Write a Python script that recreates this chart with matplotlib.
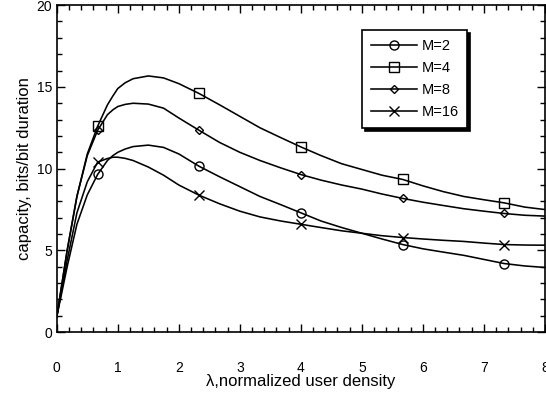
import numpy as np
import matplotlib
matplotlib.use("Agg")
import matplotlib.pyplot as plt
from matplotlib.ticker import MultipleLocator

plt.rcParams['font.family'] = ['Liberation Sans', 'DejaVu Sans']

# normalized user density (sample points)
density = [0.0, 0.17, 0.33, 0.5, 0.67, 0.83, 0.92, 1.0, 1.12, 1.25, 1.5, 1.75, 2.0,
           2.33, 2.67, 3.0, 3.33, 3.67, 4.0, 4.33, 4.67, 5.0, 5.33, 5.67, 6.0,
           6.33, 6.67, 7.0, 7.33, 7.67, 8.0]

cap_m2 = [0.95, 4.0, 6.6, 8.4, 9.65, 10.5, 10.8, 11.0, 11.2, 11.35, 11.44, 11.3, 10.9,
          10.15, 9.5, 8.9, 8.3, 7.8, 7.3, 6.8, 6.4, 6.05, 5.7, 5.36, 5.1,
          4.9, 4.7, 4.45, 4.2, 4.05, 3.96]
cap_m4 = [0.95, 5.0, 8.3, 10.9, 12.6, 13.9, 14.45, 14.9, 15.25, 15.5, 15.67, 15.55, 15.2,
          14.6, 13.9, 13.2, 12.5, 11.9, 11.33, 10.8, 10.3, 9.95, 9.6, 9.34, 8.95,
          8.6, 8.3, 8.1, 7.91, 7.65, 7.5]
cap_m8 = [0.95, 5.0, 8.3, 10.8, 12.35, 13.3, 13.6, 13.8, 13.93, 14.0, 13.95, 13.7, 13.1,
          12.35, 11.6, 11.0, 10.5, 10.05, 9.64, 9.3, 9.0, 8.75, 8.45, 8.18, 7.95,
          7.75, 7.55, 7.4, 7.26, 7.15, 7.1]
cap_m16 = [0.95, 4.4, 7.3, 9.2, 10.4, 10.62, 10.7, 10.7, 10.63, 10.5, 10.1, 9.6, 9.0,
           8.38, 7.85, 7.4, 7.05, 6.8, 6.6, 6.4, 6.2, 6.05, 5.9, 5.79, 5.7,
           5.62, 5.55, 5.45, 5.36, 5.33, 5.32]

labels = ["M=2", "M=4", "M=8", "M=16"]

# simulation points where markers sit
marker_idx = [4, 13, 18, 23, 28]

fig = plt.figure(figsize=(5.46, 3.95), dpi=100)
ax = fig.add_axes([0.104, 0.159, 0.894, 0.828])

styles = [("o", 6.5, "none"), ("s", 6.5, "none"), ("D", 4.2, "none"), ("x", 7.5, "k")]
series = [cap_m2, cap_m4, cap_m8, cap_m16]

for values, label, (mk, ms, mfc) in zip(series, labels, styles):
    ax.plot(density, values, color="k", lw=1.15, marker=mk, markersize=ms,
            markerfacecolor=mfc, markeredgecolor="k", markeredgewidth=1.0,
            markevery=marker_idx, label=label)

ax.set_xlim(0, 8)
ax.set_ylim(0, 20)
ax.xaxis.set_major_locator(MultipleLocator(1))
ax.xaxis.set_minor_locator(MultipleLocator(0.2))
ax.yaxis.set_major_locator(MultipleLocator(5))
ax.yaxis.set_minor_locator(MultipleLocator(1))
ax.tick_params(which="both", direction="in", top=True, right=True, width=1.0)
ax.tick_params(which="major", length=6, labelsize=10)
ax.tick_params(which="minor", length=3.5)
ax.tick_params(axis="x", which="major", pad=21)
for s in ax.spines.values():
    s.set_linewidth(1.2)

ax.set_xlabel("\u03bb,normalized user density", fontsize=12, labelpad=-1)
ax.set_ylabel("capacity, bits/bit duration", fontsize=12, labelpad=3)

leg = ax.legend(loc="upper left", bbox_to_anchor=(0.61, 0.945), fontsize=10.5,
                handlelength=3.2, handletextpad=0.3, labelspacing=0.55,
                fancybox=False, shadow={"color": "k", "alpha": 1.0},
                framealpha=1, edgecolor="k", borderpad=0.6)
leg.get_frame().set_linewidth(1.2)

fig.savefig("out.png", dpi=100)
